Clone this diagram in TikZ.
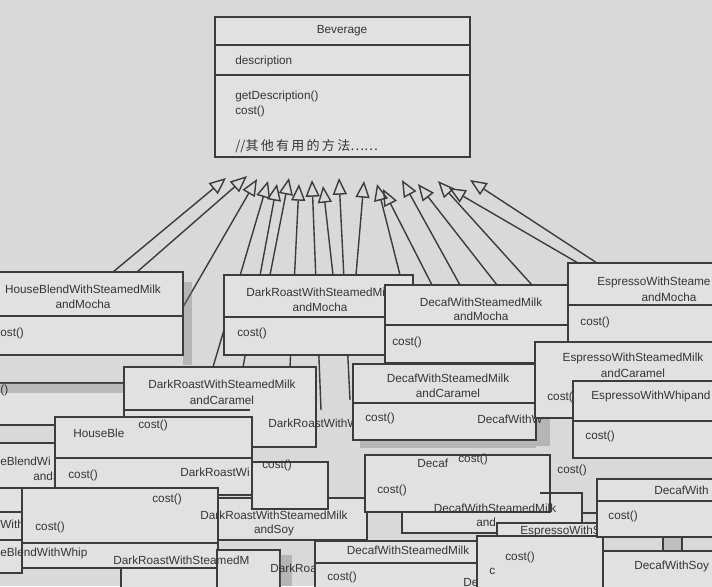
\documentclass[tikz,border=0pt]{standalone}
\usepackage{fontspec}
\setmainfont{Liberation Sans}
\newfontfamily\cjk{Noto Sans CJK SC}
\usetikzlibrary{arrows.meta}
\definecolor{paper}{HTML}{D9D9D9}
\definecolor{boxc}{HTML}{E1E1E1}
\definecolor{linec}{HTML}{3C3C3C}
\definecolor{textc}{HTML}{353535}
\newcommand{\clsfont}{\fontsize{6.7}{8}\selectfont}

\tikzset{
  cls/.style={draw=linec, fill=boxc, line width=0.8pt},
  divline/.style={draw=linec, line width=0.8pt},
  lbl/.style={font=\clsfont, text=textc, inner sep=0pt, anchor=west},
  ttl/.style={font=\clsfont, text=textc, inner sep=0pt},
  inh/.style={draw=linec, line width=0.8pt, -{Triangle[open, length=9.5pt, width=8pt]}},
  shd/.style={fill=black!55, opacity=0.35},
}

\begin{document}
\begin{tikzpicture}[x=0.02cm, y=-0.02cm]
\useasboundingbox (0,0) rectangle (712,586);
\clip (0,0) rectangle (712,586);
\fill[paper] (0,0) rectangle (712,586);

% Beverage
\draw[cls] (215,17) rectangle (470,157);
\draw[divline] (215,45) -- (470,45);
\draw[divline] (215,75) -- (470,75);
\node[ttl] (bev) at (342,31) {Beverage};
\node[lbl] (bevattr) at (235,61) {description};
\node[lbl] (bevget) at (235,96) {getDescription()};
\node[lbl] (bevcost) at (235,111) {cost()};
\node[lbl, font=\cjk\fontsize{7.4}{8.4}\selectfont] (bevnote) at (235,146)
  {//其\hspace{1.3pt}他\hspace{1.3pt}有\hspace{1.3pt}用\hspace{1.3pt}的\hspace{1.3pt}方\hspace{1.3pt}法……};

% inheritance lines, tip below Beverage, end on a subclass
\foreach \i/\tx/\ty/\ex/\ey in {1/226/178/113/272, 2/247/176/137/272, 3/257/179/183/307,
    4/268/181/213/367, 5/277/184/243/367, 6/289/178/270/275, 7/299/184/290/367,
    8/312/180/321/410, 9/323/186/333/275, 10/339/178/350/400, 11/364/181/356/275,
    12/377/184/400/275, 13/383/189/432/285, 14/402/180/460/285, 15/418/184/497/285,
    16/438/181/532/285, 17/449/188/578/263, 18/470/180/597/263} {
  \coordinate (tip\i) at (\tx,\ty);
  \coordinate (end\i) at (\ex,\ey);
  \draw[inh] (end\i) -- (tip\i);
}

% back left stack
\draw[cls] (-10,383) rectangle (124,425);
\fill[shd] (-10,383) rectangle (124,393);
\node[lbl] (hbcost) at (0,390) {()};
\draw[cls] (-40,443) rectangle (150,512);
\draw[divline] (-40,488) -- (150,488);
\node[lbl] (hbsoy1) at (0,461) {eBlendWi};
\node[lbl] (hbsoy2) at (33,476) {andS};
\draw[cls] (-10,512) rectangle (22,573);
\draw[divline] (-10,540) -- (22,540);
\node[lbl] (hbs) at (0,524) {WithS};

% DarkRoast caramel
\draw[cls] (124,367) rectangle (316,447);
\draw[divline] (124,410) -- (250,410);
\node[ttl] (drcar1) at (222,384) {DarkRoastWithSteamedMilk};
\node[ttl] (drcar2) at (222,400) {andCaramel};

% HouseBle
\draw[cls] (55,417) rectangle (252,495);
\draw[divline] (55,458) -- (252,458);
\node[lbl] (hble) at (73,433) {HouseBle};
\node[lbl] (hblecost) at (68,475) {cost()};
\node[lbl] (hbledr) at (180,472) {DarkRoastWi};
\node[lbl] (drcarcost) at (138,425) {cost()};
\node[lbl] (drwhip) at (268,423) {DarkRoastWithW};

% whip boxes
\draw[cls] (22,488) rectangle (218,568);
\draw[divline] (22,543) -- (218,543);
\node[lbl] (whcost1) at (152,499) {cost()};
\node[lbl] (whcost2) at (35,527) {cost()};
\node[lbl] (hbwhip) at (0,553) {eBlendWithWhip};
\draw[cls] (121,568) rectangle (217,600);

% DarkRoast soy
\draw[cls] (218,498) rectangle (367,540);
\draw[cls] (252,462) rectangle (328,509);
\node[lbl] (drsoycost) at (262,465) {cost()};
\node[ttl] (drsoy1) at (274,515) {DarkRoastWithSteamedMilk};
\node[ttl] (drsoy2) at (274,530) {andSoy};

% bottom middle
\draw[cls] (217,550) rectangle (280,600);
\fill[shd] (280,555) rectangle (292,586);
\node[lbl] (drsm) at (270,568) {DarkRoa};
\draw[cls] (315,541) rectangle (478,600);
\draw[divline] (315,563) -- (478,563);
\node[ttl] (dcsm) at (408,550) {DecafWithSteamedMilk};
\node[lbl] (dcsmcost) at (327,577) {cost()};
\node[lbl] (dcwhip) at (463,582) {Dec};
\node[lbl] (drsmtop) at (113,560) {DarkRoastWithSteamedM};

% Decaf group
\draw[cls] (402,493) rectangle (582,533);
\draw[cls] (365,455) rectangle (550,512);
\node[lbl] (dc) at (417,463) {Decaf};
\node[lbl] (dccost1) at (458,459) {cost()};
\node[lbl] (dccost2) at (377,490) {cost()};
\node[ttl] (dcsoy1) at (495,508) {DecafWithSteamedMilk};
\node[lbl] (dcsoy2) at (476,522) {and};
\draw[divline] (540,493) -- (582,493) -- (582,522);
\draw[divline] (582,513) -- (597,513);
\node[lbl] (brcost) at (557,470) {cost()};
\draw[cls] (497,523) rectangle (598,537);
\node[lbl] (essm) at (520,531) {EspressoWithS};
\draw[cls] (477,536) rectangle (603,600);
\node[lbl] (mcost) at (505,557) {cost()};
\node[lbl] (mc) at (489,571) {c};

% Decaf caramel
\fill[shd] (536,372) rectangle (550,446);
\fill[shd] (360,440) rectangle (536,448);
\draw[cls] (353,364) rectangle (536,440);
\draw[divline] (353,403) -- (536,403);
\node[ttl] (dccar1) at (448,378) {DecafWithSteamedMilk};
\node[ttl] (dccar2) at (448,393) {andCaramel};
\node[lbl] (dccarcost) at (365,418) {cost()};
\node[lbl] (dccarw) at (477,419) {DecafWithW};

% bottom right
\draw[cls] (597,479) rectangle (720,537);
\draw[divline] (597,501) -- (720,501);
\node[lbl] (dcsoyw) at (654,490) {DecafWith};
\node[lbl] (dcsoywcost) at (608,516) {cost()};
\draw[divline, fill=black!25] (663,537) rectangle (682,551);
\draw[cls] (603,551) rectangle (720,600);
\node[lbl] (dcsoya) at (634,566) {DecafWithSoy};

% top row
\fill[shd] (183,282) rectangle (192,365);
\draw[cls] (-10,272) rectangle (183,355);
\draw[divline] (-10,316) -- (183,316);
\node[ttl] (hbmo1) at (83,289) {HouseBlendWithSteamedMilk};
\node[ttl] (hbmo2) at (83,304) {andMocha};
\node[lbl] (hbmocost) at (0,333) {ost()};

\draw[cls] (224,275) rectangle (413,355);
\draw[divline] (224,317) -- (413,317);
\node[ttl] (drmo1) at (320,292) {DarkRoastWithSteamedMilk};
\node[ttl] (drmo2) at (320,307) {andMocha};
\node[lbl] (drmocost) at (237,333) {cost()};

\draw[cls] (385,285) rectangle (568,363);
\draw[divline] (385,325) -- (568,325);
\node[ttl] (dcmo1) at (481,302) {DecafWithSteamedMilk};
\node[ttl] (dcmo2) at (481,316) {andMocha};
\node[lbl] (dcmocost) at (392,342) {cost()};

\draw[cls] (568,263) rectangle (720,342);
\draw[divline] (568,305) -- (720,305);
\node[lbl] (esmo1) at (597,282) {EspressoWithSteame};
\node[ttl] (esmo2) at (669,297) {andMocha};
\node[lbl] (esmocost) at (580,322) {cost()};

\draw[cls] (535,342) rectangle (720,418);
\node[ttl] (escar1) at (633,358) {EspressoWithSteamedMilk};
\node[ttl] (escar2) at (633,373) {andCaramel};
\node[lbl] (escarcost) at (547,397) {cost()};

\draw[cls] (573,381) rectangle (720,458);
\draw[divline] (573,421) -- (720,421);
\node[lbl] (eswhip) at (591,396) {EspressoWithWhipand};
\node[lbl] (eswhipcost) at (585,436) {cost()};
\end{tikzpicture}
\end{document}
